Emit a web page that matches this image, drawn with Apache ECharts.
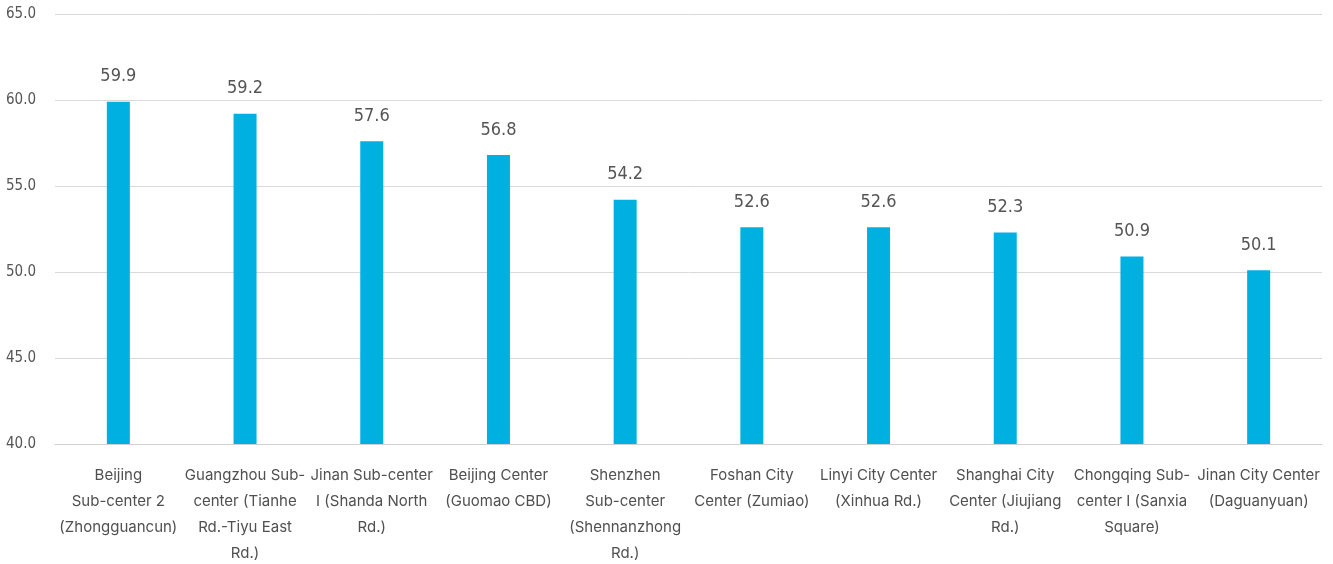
<!DOCTYPE html>
<html>
<head>
<meta charset="utf-8">
<script src="https://cdn.jsdelivr.net/npm/echarts@6/dist/echarts.min.js"></script>
<style>
  html, body { margin: 0; padding: 0; background: #fff; }
  #chart { width: 1333px; height: 564px; }
</style>
</head>
<body>
<div id="chart"></div>
<script>
// Locations (line breaks as set in the axis labels)
const categories = [
  'Beijing\nSub-center 2\n(Zhongguancun)',
  'Guangzhou Sub-\ncenter (Tianhe\nRd.-Tiyu East\nRd.)',
  'Jinan Sub-center\nI (Shanda North\nRd.)',
  'Beijing Center\n(Guomao CBD)',
  'Shenzhen\nSub-center\n(Shennanzhong\nRd.)',
  'Foshan City\nCenter (Zumiao)',
  'Linyi City Center\n(Xinhua Rd.)',
  'Shanghai City\nCenter (Jiujiang\nRd.)',
  'Chongqing Sub-\ncenter I (Sanxia\nSquare)',
  'Jinan City Center\n(Daguanyuan)'
];
const values = [59.9, 59.2, 57.6, 56.8, 54.2, 52.6, 52.6, 52.3, 50.9, 50.1];
const yTicks = { min: 40, max: 65, interval: 5 };

const numFont = '"DejaVu Sans Condensed", "Liberation Sans Narrow", sans-serif';
const textFont = 'Inter, "Noto Sans", sans-serif';

const chart = echarts.init(document.getElementById('chart'), null, { renderer: 'canvas' });
chart.setOption({
  animation: false,
  grid: {
    left: 55, right: 11, top: 14, bottom: 120,
    containLabel: false,
    outerBoundsMode: 'none'
  },
  xAxis: {
    type: 'category',
    data: categories,
    axisLine: { lineStyle: { color: '#d0d0d0', width: 1 } },
    axisTick: { show: false },
    axisLabel: {
      interval: 0,
      margin: 18,
      color: '#505050',
      fontFamily: textFont,
      fontSize: 15,
      lineHeight: 26
    }
  },
  yAxis: {
    type: 'value',
    min: yTicks.min,
    max: yTicks.max,
    interval: yTicks.interval,
    axisLine: { show: false },
    axisTick: { show: false },
    splitLine: { lineStyle: { color: '#d9d9d9', width: 1 } },
    axisLabel: {
      margin: 19,
      color: '#555',
      fontFamily: numFont,
      fontSize: 15,
      formatter: v => v.toFixed(1)
    }
  },
  series: [{
    type: 'bar',
    data: values,
    barWidth: 23,
    itemStyle: { color: '#00b0e0' },
    label: {
      show: true,
      position: 'top',
      distance: 16,
      color: '#555',
      fontFamily: numFont,
      fontSize: 18,
      formatter: p => p.value.toFixed(1)
    }
  }]
});
</script>
</body>
</html>
